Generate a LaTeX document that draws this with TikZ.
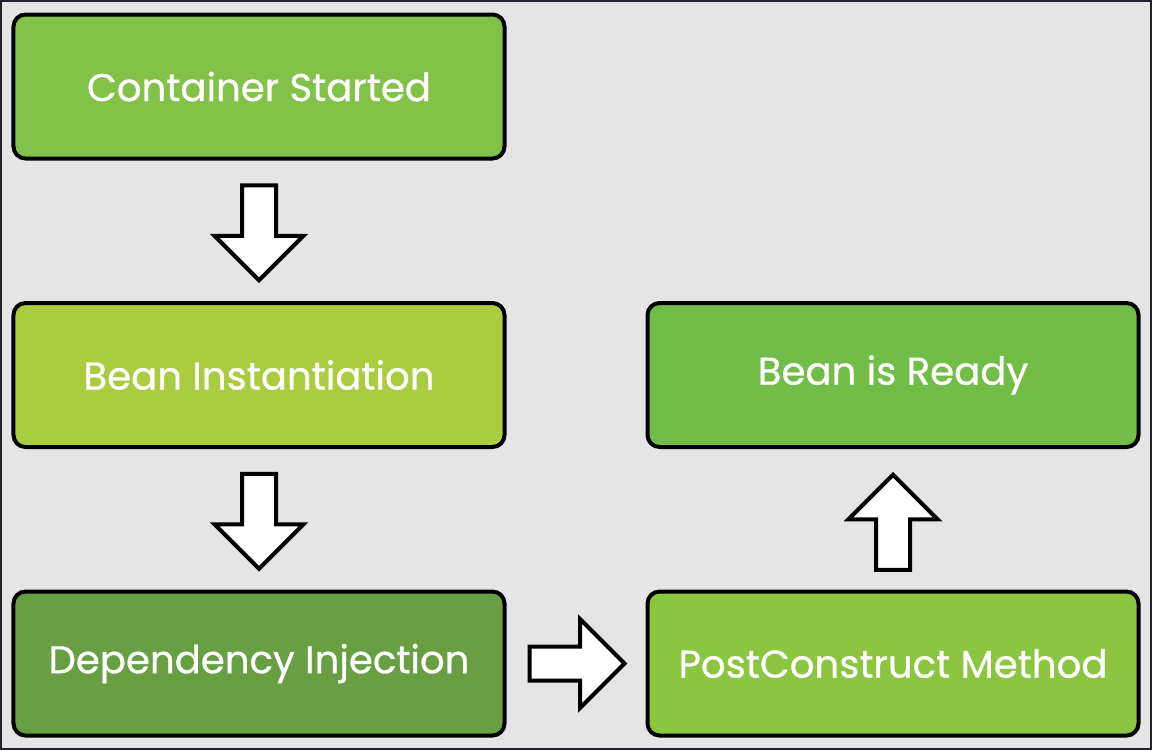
\documentclass[tikz,border=0pt]{standalone}
\usepackage{fontspec}
\setmainfont{Poppins}[FakeBold=0.7]
\usetikzlibrary{shapes.arrows,calc}

\definecolor{bgGrey}{HTML}{E5E5E5}
\definecolor{frameDark}{HTML}{23232E}
\definecolor{greenStart}{HTML}{83C249}
\definecolor{greenInst}{HTML}{A9CD3F}
\definecolor{greenDep}{HTML}{689F43}
\definecolor{greenReady}{HTML}{72BD48}
\definecolor{greenPost}{HTML}{8CC540}

\tikzset{
	stage/.style={draw=black,line width=0.08cm,rounded corners=0.24cm,
		minimum width=9.82cm,minimum height=2.88cm,text=white,
		font=\fontsize{22}{26}\selectfont},
	flowarrow/.style={single arrow,draw=black,fill=white,line width=0.08cm,
		inner sep=0.3cm,single arrow head extend=0.55cm,minimum height=1.9cm,
		anchor=tail}
}

\begin{document}
\begin{tikzpicture}

\useasboundingbox (0,0) rectangle (23.04,-15);
\path[fill=bgGrey,draw=frameDark,line width=0.04cm] (0.02,-0.02) rectangle (23.02,-14.98);

\node[stage,fill=greenStart] (start) at (5.18,-1.73) {Container Started};
\node[stage,fill=greenInst] (inst) at (5.18,-7.5) {Bean Instantiation};
\node[stage,fill=greenDep] (dep) at (5.18,-13.27) {Dependency Injection};
\node[stage,fill=greenPost] (post) at (17.86,-13.27) {PostConstruct Method};
\node[stage,fill=greenReady] (ready) at (17.86,-7.5) {Bean is Ready};

% midpoints between the boxes
\coordinate (m1) at ($(start.south)!0.5!(inst.north)$);
\coordinate (m2) at ($(inst.south)!0.5!(dep.north)$);
\coordinate (m3) at ($(dep.east)!0.5!(post.west)$);
\coordinate (m4) at ($(post.north)!0.5!(ready.south)$);

\node[flowarrow,rotate=-90] (a1) at ($(m1)+(0,0.95)$) {};
\node[flowarrow,rotate=-90] (a2) at ($(m2)+(0,0.95)$) {};
\node[flowarrow] (a3) at ($(m3)+(-0.97,0)$) {};
\node[flowarrow,rotate=90] (a4) at ($(m4)+(0,-1.05)$) {};

\end{tikzpicture}
\end{document}
